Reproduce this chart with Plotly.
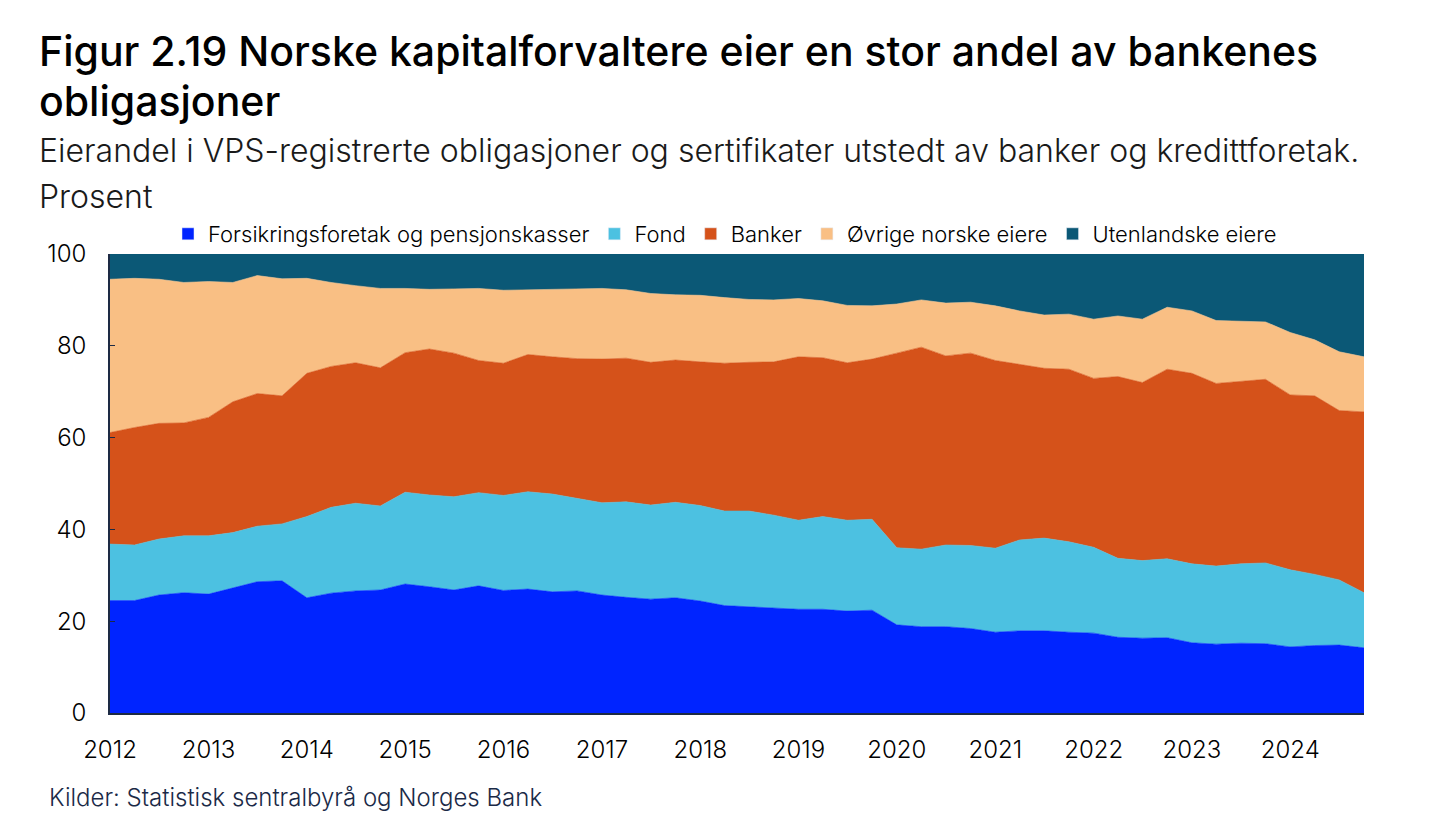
import plotly.graph_objects as go
import pandas as pd

# Quarterly observations 2012 Q1 - 2024 Q4
quarters = pd.date_range("2012-01-01", periods=52, freq="QS")

series_names = [
    "Forsikringsforetak og pensjonskasser",
    "Fond",
    "Banker",
    "Øvrige norske eiere",
    "Utenlandske eiere",
]

forsikring = [24.5, 24.5, 25.7, 26.2, 25.9, 27.2, 28.6, 28.8, 25.1, 26.1, 26.6, 26.8,
              28.1, 27.5, 26.8, 27.7, 26.7, 27.0, 26.4, 26.6, 25.7, 25.2, 24.8, 25.1,
              24.4, 23.4, 23.1, 22.9, 22.6, 22.6, 22.2, 22.4, 19.2, 18.8, 18.8, 18.4,
              17.6, 17.9, 17.9, 17.6, 17.4, 16.5, 16.3, 16.4, 15.3, 15.0, 15.2, 15.1,
              14.4, 14.7, 14.8, 14.2]
fond = [12.3, 12.1, 12.2, 12.4, 12.7, 12.1, 12.1, 12.4, 17.7, 18.7, 19.1, 18.3,
        20.0, 20.0, 20.3, 20.3, 20.7, 21.2, 21.3, 20.2, 20.1, 20.8, 20.5, 20.8,
        20.8, 20.6, 20.9, 20.2, 19.4, 20.2, 19.8, 19.8, 16.8, 16.9, 17.8, 18.1,
        18.3, 19.8, 20.2, 19.7, 18.7, 17.2, 16.9, 17.2, 17.2, 17.0, 17.3, 17.6,
        16.8, 15.5, 14.2, 12.0]
banker = [24.3, 25.6, 25.2, 24.6, 25.8, 28.5, 28.9, 27.9, 31.2, 30.7, 30.6, 30.1,
          30.4, 31.8, 31.3, 28.8, 28.8, 29.9, 29.9, 30.4, 31.3, 31.3, 31.1, 31.0,
          31.3, 32.2, 32.4, 33.4, 35.6, 34.6, 34.3, 34.9, 42.4, 44.0, 41.2, 41.9,
          40.9, 38.3, 37.0, 37.6, 36.8, 39.6, 38.8, 41.3, 41.5, 39.8, 39.7, 40.0,
          38.1, 38.9, 36.9, 39.4]
ovrige = [33.4, 32.5, 31.4, 30.6, 29.6, 26.0, 25.7, 25.5, 20.7, 18.3, 16.8, 17.3,
          14.0, 13.0, 14.0, 15.7, 15.9, 14.1, 14.7, 15.1, 15.4, 14.9, 15.0, 14.2,
          14.5, 14.3, 13.7, 13.5, 12.7, 12.4, 12.5, 11.6, 10.7, 10.3, 11.5, 11.1,
          11.9, 11.6, 11.6, 12.0, 12.9, 13.2, 13.8, 13.5, 13.6, 13.7, 13.1, 12.5,
          13.6, 12.2, 12.8, 12.0]
utenlandske = [5.5, 5.3, 5.5, 6.2, 6.0, 6.2, 4.7, 5.4, 5.3, 6.2, 6.9, 7.5,
               7.5, 7.7, 7.6, 7.5, 7.9, 7.8, 7.7, 7.7, 7.5, 7.8, 8.6, 8.9,
               9.0, 9.5, 9.9, 10.0, 9.7, 10.2, 11.2, 11.3, 10.9, 10.0, 10.7, 10.5,
               11.3, 12.4, 13.3, 13.1, 14.2, 13.5, 14.2, 11.6, 12.4, 14.5, 14.7, 14.8,
               17.1, 18.7, 21.3, 22.4]

y_ticks = [0, 20, 40, 60, 80, 100]

colors = ["#0024ff", "#4cc1e1", "#d5521a", "#f9bf84", "#0b5876"]
values = [forsikring, fond, banker, ovrige, utenlandske]

FONT = "Inter"
AXIS_COLOR = "#1d2a44"

fig = go.Figure()
for name, vals, col in zip(series_names, values, colors):
    fig.add_trace(go.Scatter(
        x=quarters, y=vals, name=name, stackgroup="one", mode="lines",
        line=dict(width=0.6, color=col), fillcolor=col, showlegend=False,
        hoverinfo="x+y+name",
    ))
# legend entries with square swatches
for name, col in zip(series_names, colors):
    fig.add_trace(go.Bar(x=[None], y=[None], name=name, marker_color=col,
                         showlegend=True))

# The page body has an 8px margin, so the figure is made 8px smaller
OFF = 8
W, H = 1445 - OFF, 827 - OFF
L, R, T, B = 110 - OFF, 81, 254 - OFF, 114
ph = H - T - B
pw = W - L - R

def py(y_page):
    return (H - B - (y_page - OFF)) / ph

def px(x_page):
    return (x_page - OFF - L) / pw

annotations = [
    dict(text="Figur 2.19 Norske kapitalforvaltere eier en stor andel av bankenes",
         x=px(37), y=py(51), font=dict(size=41, color="#000000", family=FONT, weight=500)),
    dict(text="obligasjoner",
         x=px(37), y=py(101), font=dict(size=41, color="#000000", family=FONT, weight=500)),
    dict(text="Eierandel i VPS-registrerte obligasjoner og sertifikater utstedt av banker og kredittforetak.",
         x=px(37), y=py(150), font=dict(size=32, color="#1a1a1a", family=FONT, weight=300)),
    dict(text="Prosent",
         x=px(37), y=py(196), font=dict(size=32, color="#1a1a1a", family=FONT, weight=300)),
    dict(text="Kilder: Statistisk sentralbyrå og Norges Bank",
         x=px(47), y=py(797), font=dict(size=24, color="#1b2a47", family=FONT, weight=300)),
]
for a in annotations:
    a.update(xref="paper", yref="paper", xanchor="left", yanchor="middle",
             showarrow=False)

fig.update_layout(
    width=W, height=H,
    margin=dict(l=L, r=R, t=T, b=B, pad=0),
    paper_bgcolor="white", plot_bgcolor="white",
    font=dict(family=FONT, size=24, color="#000000"),
    annotations=annotations,
    legend=dict(orientation="h", x=px(725), xanchor="center", y=py(234),
                yanchor="middle", font=dict(size=22, family=FONT, weight=300),
                traceorder="normal", itemclick=False, itemdoubleclick=False,
                bgcolor="rgba(0,0,0,0)"),
    xaxis=dict(type="date", range=[quarters[0], quarters[-1]], dtick="M12",
               tick0="2012-01-01", tickformat="%Y", showgrid=False, zeroline=False,
               showline=True, linecolor=AXIS_COLOR, linewidth=1.5, ticks="",
               ticklabelstandoff=14, tickfont=dict(size=24, weight=300)),
    yaxis=dict(range=[0, 100], tickvals=y_ticks, showgrid=False, zeroline=False,
               showline=True, linecolor=AXIS_COLOR, linewidth=1.5, ticks="inside",
               ticklen=5, tickcolor=AXIS_COLOR, tickwidth=1.2,
               ticklabelstandoff=17, tickfont=dict(size=24, weight=300)),
    showlegend=True,
)

fig.write_html("out.html")
